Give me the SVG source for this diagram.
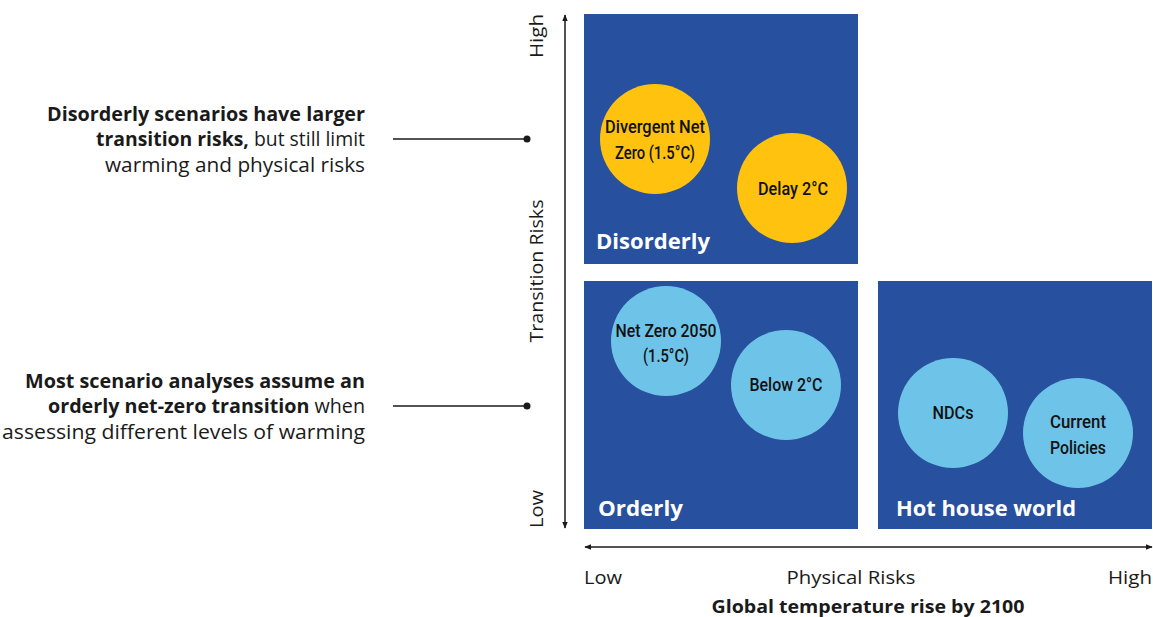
<svg xmlns="http://www.w3.org/2000/svg" width="1153" height="617" viewBox="0 0 1153 617">
<style>
.box{fill:#27509E;}
.yc{fill:#FFC20E;}
.bc{fill:#6EC4E8;}
.ct{font-family:"Roboto","Noto Sans",sans-serif;font-size:18px;font-weight:500;fill:#111;text-anchor:middle;}
.bt{font-family:"Open Sans","Noto Sans",sans-serif;font-size:21px;font-weight:bold;fill:#fff;}
.lt{font-family:"Open Sans","Noto Sans",sans-serif;font-size:19.5px;fill:#1a1a1a;text-anchor:end;}
.b{font-weight:bold;}
.ax{font-family:"Open Sans","Noto Sans",sans-serif;font-size:18px;fill:#1a1a1a;}
.line{stroke:#1a1a1a;stroke-width:1.5;fill:none;}
</style>
<defs>
<marker id="ah" viewBox="0 0 10 10" refX="9" refY="5" markerWidth="7" markerHeight="7" orient="auto-start-reverse" markerUnits="userSpaceOnUse">
<path d="M0,1 L10,5 L0,9 Z" fill="#1a1a1a"/>
</marker>
</defs>
<rect width="1153" height="617" fill="#fff"/>

<g id="connectors">
<line class="line" x1="565" y1="15" x2="565" y2="528" marker-start="url(#ah)" marker-end="url(#ah)"/>
<line class="line" x1="585" y1="547" x2="1152" y2="547" marker-start="url(#ah)" marker-end="url(#ah)"/>
<line class="line" x1="393" y1="139" x2="527" y2="139"/>
<circle cx="527" cy="139" r="3.5" fill="#1a1a1a"/>
<line class="line" x1="393" y1="406" x2="527" y2="406"/>
<circle cx="527" cy="406" r="3.5" fill="#1a1a1a"/>
</g>

<g id="axis-labels">
<text class="ax" transform="translate(543,36) rotate(-90)" text-anchor="middle" textLength="44" lengthAdjust="spacingAndGlyphs">High</text>
<text class="ax" transform="translate(543,271) rotate(-90)" text-anchor="middle" textLength="143" lengthAdjust="spacingAndGlyphs">Transition Risks</text>
<text class="ax" transform="translate(543,509) rotate(-90)" text-anchor="middle" textLength="38" lengthAdjust="spacingAndGlyphs">Low</text>
<text class="ax" x="584" y="584" textLength="38" lengthAdjust="spacingAndGlyphs">Low</text>
<text class="ax" x="851" y="584" text-anchor="middle" textLength="129" lengthAdjust="spacingAndGlyphs">Physical Risks</text>
<text class="ax" x="1152" y="584" text-anchor="end" textLength="44" lengthAdjust="spacingAndGlyphs">High</text>
<text class="ax b" x="868" y="613" text-anchor="middle" textLength="313" lengthAdjust="spacingAndGlyphs">Global temperature rise by 2100</text>
</g>

<g id="note-disorderly">
<text class="lt b" x="365" y="121" textLength="318" lengthAdjust="spacingAndGlyphs">Disorderly scenarios have larger</text>
<text class="lt" x="365" y="146" textLength="269" lengthAdjust="spacingAndGlyphs"><tspan class="b">transition risks,</tspan> but still limit</text>
<text class="lt" x="365" y="172" textLength="260" lengthAdjust="spacingAndGlyphs">warming and physical risks</text>
</g>

<g id="note-orderly">
<text class="lt b" x="365" y="388" textLength="340" lengthAdjust="spacingAndGlyphs">Most scenario analyses assume an</text>
<text class="lt" x="365" y="413" textLength="317" lengthAdjust="spacingAndGlyphs"><tspan class="b">orderly net-zero transition</tspan> when</text>
<text class="lt" x="365" y="439" textLength="363" lengthAdjust="spacingAndGlyphs">assessing different levels of warming</text>
</g>

<g id="disorderly">
<rect class="box" x="584" y="14" width="274" height="250"/>
<text class="bt" x="596" y="249" textLength="114" lengthAdjust="spacingAndGlyphs">Disorderly</text>
</g>
<g id="orderly">
<rect class="box" x="584" y="281" width="274" height="248"/>
<text class="bt" x="598" y="516" textLength="85" lengthAdjust="spacingAndGlyphs">Orderly</text>
</g>
<g id="hothouse">
<rect class="box" x="878" y="281" width="274" height="248"/>
<text class="bt" x="896" y="516" textLength="180" lengthAdjust="spacingAndGlyphs">Hot house world</text>
</g>

<g id="divergent-net-zero">
<circle class="yc" cx="655" cy="139" r="55"/>
<text class="ct" x="655" y="133" textLength="100" lengthAdjust="spacingAndGlyphs">Divergent Net</text>
<text class="ct" x="655" y="159" textLength="80" lengthAdjust="spacingAndGlyphs">Zero (1.5°C)</text>
</g>
<g id="delay-2c">
<circle class="yc" cx="792" cy="188" r="55"/>
<text class="ct" x="793" y="195" textLength="70" lengthAdjust="spacingAndGlyphs">Delay 2°C</text>
</g>
<g id="net-zero-2050">
<circle class="bc" cx="666" cy="341" r="55"/>
<text class="ct" x="666" y="337" textLength="101" lengthAdjust="spacingAndGlyphs">Net Zero 2050</text>
<text class="ct" x="666" y="362" textLength="46" lengthAdjust="spacingAndGlyphs">(1.5°C)</text>
</g>
<g id="below-2c">
<circle class="bc" cx="786" cy="385" r="55"/>
<text class="ct" x="786" y="391" textLength="73" lengthAdjust="spacingAndGlyphs">Below 2°C</text>
</g>
<g id="ndcs">
<circle class="bc" cx="953" cy="413" r="55"/>
<text class="ct" x="953" y="419" textLength="41" lengthAdjust="spacingAndGlyphs">NDCs</text>
</g>
<g id="current-policies">
<circle class="bc" cx="1078" cy="433" r="55"/>
<text class="ct" x="1078" y="428" textLength="56" lengthAdjust="spacingAndGlyphs">Current</text>
<text class="ct" x="1078" y="454" textLength="56" lengthAdjust="spacingAndGlyphs">Policies</text>
</g>
</svg>
